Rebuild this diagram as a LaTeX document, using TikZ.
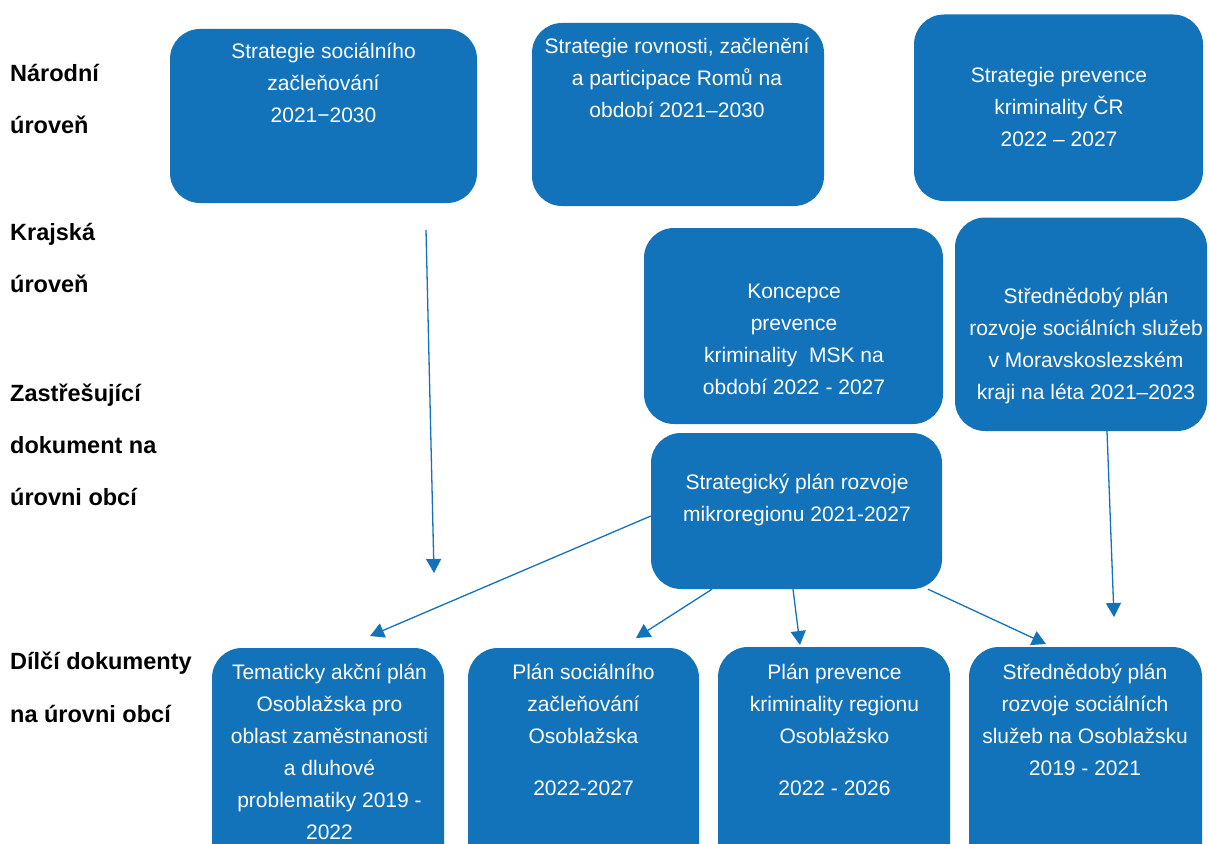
\documentclass[tikz,border=0pt]{standalone}
\usepackage{fontspec}
\setmainfont{Liberation Sans}
\usetikzlibrary{arrows.meta}
\definecolor{boxblue}{RGB}{18,114,186}
\begin{document}
\begin{tikzpicture}[x=1pt,y=-1pt,
  box/.style={fill=boxblue, draw=none, rounded corners=30pt, inner sep=0pt},
  txt/.style={text=white, align=center, inner sep=0pt, anchor=north,
    font=\fontsize{21}{32}\selectfont, execute at begin node={\rule{0pt}{24pt}}},
  lvl/.style={anchor=north west, inner sep=0pt, align=left,
    font=\bfseries\fontsize{23.5}{52.5}\selectfont, execute at begin node={\rule{0pt}{24pt}}},
  arr/.style={draw=boxblue, line width=1.3pt, -{Triangle[length=14pt,width=15pt]}}
]
\useasboundingbox (0,0) rectangle (1209,843);

% level labels
\node[lvl] (l1) at (10,64) {Národní\\úroveň};
\node[lvl] (l2) at (10,223) {Krajská\\úroveň};
\node[lvl, font=\bfseries\fontsize{23.5}{52}\selectfont] (l3) at (10,384) {Zastřešující\\dokument na\\úrovni obcí};
\node[lvl] (l4) at (10,652) {Dílčí dokumenty\\na úrovni obcí};

% boxes
\node[box, minimum width=307pt, minimum height=174pt] (b1) at (323.5,116) {};
\node[box, minimum width=292pt, minimum height=183pt] (b2) at (678,114.5) {};
\node[box, minimum width=289pt, minimum height=186.5pt] (b3) at (1058.5,107.75) {};
\node[box, minimum width=299pt, minimum height=196pt] (b4) at (793.5,326) {};
\node[box, minimum width=252pt, minimum height=213.5pt] (b5) at (1081,324.25) {};
\node[box, minimum width=291pt, minimum height=156pt] (b6) at (796.5,511) {};
\node[box, minimum width=232pt, minimum height=232pt] (b7) at (328,764) {};
\node[box, minimum width=231pt, minimum height=232pt] (b8) at (583.5,764) {};
\node[box, minimum width=232pt, minimum height=233pt] (b9) at (834,763.5) {};
\node[box, minimum width=233pt, minimum height=233pt] (b10) at (1085.5,763.5) {};

% box texts
\node[txt] (t1) at (323.5,43) {Strategie sociálního\\začleňování\\2021−2030};
\node[txt] (t2) at (677,38) {Strategie rovnosti, začlenění\\a participace Romů na\\období 2021–2030};
\node[txt] (t3) at (1059,67) {Strategie prevence\\kriminality ČR\\2022 – 2027};
\node[txt] (t4) at (794,284) {Koncepce\\prevence\\kriminality~ MSK na\\období 2022 - 2027};
\node[txt] (t5) at (1086,288) {Střednědobý plán\\rozvoje sociálních služeb\\v Moravskoslezském\\kraji na léta 2021–2023};
\node[txt] (t6) at (797,474) {Strategický plán rozvoje\\mikroregionu 2021-2027};
\node[txt] (t7) at (329.5,664) {Tematicky akční plán\\Osoblažska pro\\oblast zaměstnanosti\\a dluhové\\problematiky 2019 -\\2022};
\node[txt] (t8) at (583.5,664) {Plán sociálního\\začleňování\\Osoblažska\\[20pt]2022-2027};
\node[txt] (t9) at (834.5,664) {Plán prevence\\kriminality regionu\\Osoblažsko\\[20pt]2022 - 2026};
\node[txt] (t10) at (1085,664) {Střednědobý plán\\rozvoje sociálních\\služeb na Osoblažsku\\2019 - 2021};

% free arrow ends
\coordinate (a1s) at (426,230);
\coordinate (a1e) at (434,573);
\coordinate (a2e) at (370,636);
\coordinate (a3e) at (636,638);
\coordinate (a4e) at (800,645);
\coordinate (a5e) at (1046,644);
\coordinate (a6e) at (1114,617);

% arrows
\draw[arr] (a1s) -- (a1e);
\draw[arr] ([yshift=-5pt]b6.west) -- (a2e);
\draw[arr] ([xshift=-84.5pt]b6.south) -- (a3e);
\draw[arr] ([xshift=-3.5pt]b6.south) -- (a4e);
\draw[arr] ([xshift=131.5pt]b6.south) -- (a5e);
\draw[arr] ([xshift=26pt]b5.south) -- (a6e);
\end{tikzpicture}
\end{document}
